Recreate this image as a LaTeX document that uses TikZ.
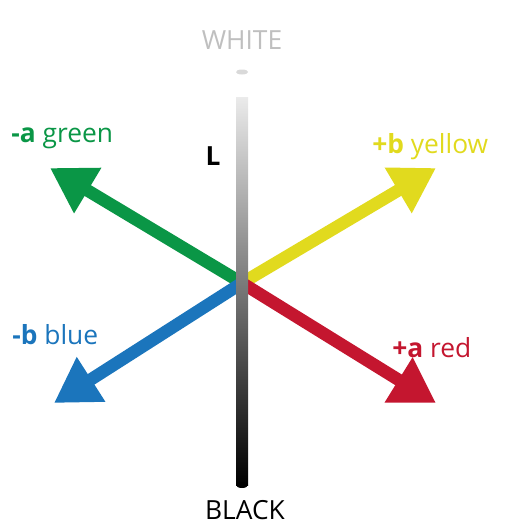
\documentclass[tikz,border=0pt]{standalone}
\usepackage{fontspec}
\setmainfont{Open Sans}
\usetikzlibrary{arrows.meta, positioning}

\definecolor{labgreen}{RGB}{10,150,70}
\definecolor{labyellow}{RGB}{225,218,30}
\definecolor{labblue}{RGB}{27,117,188}
\definecolor{labred}{RGB}{196,22,47}

\begin{document}
\begin{tikzpicture}[x=0.02cm, y=-0.02cm,
    axis/.style={line width=0.25cm, -{Triangle[length=0.88cm, width=1.0cm]}},
    lbl/.style={font=\fontsize{15}{17}\selectfont, inner sep=0pt}]

    \useasboundingbox (0,0) rectangle (507,531);

    % ================= a/b axes =================
    \coordinate (o) at (242,283);
    \coordinate (gtip) at (50,168);
    \coordinate (ytip) at (436,168);
    \coordinate (btip) at (54,403);
    \coordinate (rtip) at (436,403);

    \draw[axis, labgreen] (o) -- (gtip);
    \draw[axis, labyellow] (o) -- (ytip);
    \draw[axis, labblue] (o) -- (btip);
    \draw[axis, labred] (o) -- (rtip);

    % ================= L axis =================
    \shade[top color=white!92!black, bottom color=black] (236,97) rectangle (248,485);
    \fill[black] (242,485) ellipse (6 and 3);
    \fill[white!85!black] (242,72) ellipse (6 and 2.5);

    % Labels
    \node[lbl, text=white!75!black] (white) at (242,40) {WHITE};
    \node[lbl, text=black] (black) at (245,510) {BLACK};
    \node[lbl, font=\fontsize{15}{17}\selectfont\bfseries] (lname) at (213,156) {L};
    \node[lbl, text=labgreen, anchor=west] (green) at (11,138) {\textbf{-a} green};
    \node[lbl, text=labyellow, anchor=west] (yellow) at (372,147) {\textbf{+b} yellow};
    \node[lbl, text=labblue, anchor=west] (blue) at (12,335) {\textbf{-b} blue};
    \node[lbl, text=labred, anchor=west] (red) at (392,348) {\textbf{+a} red};

\end{tikzpicture}
\end{document}
